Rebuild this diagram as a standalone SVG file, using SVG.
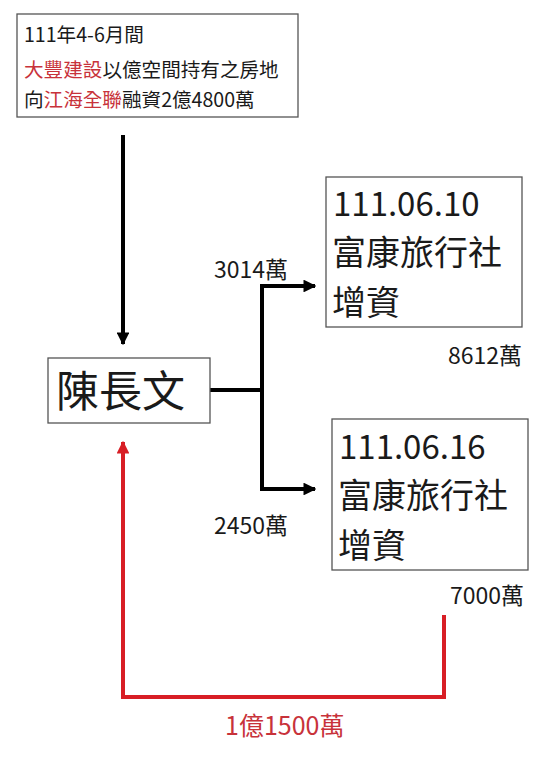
<svg xmlns="http://www.w3.org/2000/svg" width="555" height="773" viewBox="0 0 555 773">
<style>
.t{font-family:"Noto Sans CJK TC","Noto Sans",sans-serif;fill:#1a1a1a}
.r{fill:#c8323a}
.box{fill:#fff;stroke:#555;stroke-width:1.3}
.k{fill:none;stroke:#000;stroke-width:4}
.red{fill:none;stroke:#d81e25;stroke-width:4}
.e{text-anchor:end}
</style>
<defs>
<marker id="ab" viewBox="0 0 10 10" refX="9" refY="5" markerWidth="3.2" markerHeight="3.2" orient="auto" markerUnits="strokeWidth"><path d="M0,0L10,5L0,10z" fill="#000"/></marker>
<marker id="ar" viewBox="0 0 10 10" refX="9" refY="5" markerWidth="3.2" markerHeight="3.2" orient="auto" markerUnits="strokeWidth"><path d="M0,0L10,5L0,10z" fill="#d81e25"/></marker>
</defs>
<rect width="555" height="773" fill="#fff"/>
<g id="connectors">
<line class="k" x1="123" y1="135" x2="123" y2="344" marker-end="url(#ab)"/>
<polyline class="k" points="210,390 262,390"/>
<polyline class="k" points="262,489 262,286 315,286" marker-end="url(#ab)"/>
<polyline class="k" points="262,389 262,489 315,489" marker-end="url(#ab)"/>
<polyline class="red" points="444,615 444,697 123,697 123,442" marker-end="url(#ar)"/>
</g>
<g id="source">
<rect class="box" x="17" y="14" width="281" height="103"/>
<text class="t" x="24" y="42" font-size="19.6">111年4-6月間</text>
<text class="t" x="24" y="77" font-size="19.6"><tspan class="r">大豐建設</tspan>以億空間持有之房地</text>
<text class="t" x="24" y="107" font-size="19.6">向<tspan class="r">江海全聯</tspan>融資2億4800萬</text>
</g>
<g id="chen">
<rect class="box" x="48" y="358" width="162" height="65"/>
<text class="t" x="56" y="407" font-size="43">陳長文</text>
</g>
<g id="inv1">
<rect class="box" x="326" y="177" width="196" height="150"/>
<text class="t" x="333" y="216" font-size="33">111.06.10</text>
<text class="t" x="332" y="265" font-size="34">富康旅行社</text>
<text class="t" x="332" y="315" font-size="34">增資</text>
</g>
<g id="inv2">
<rect class="box" x="332" y="419" width="196" height="151"/>
<text class="t" x="339" y="459" font-size="33">111.06.16</text>
<text class="t" x="338" y="508" font-size="34">富康旅行社</text>
<text class="t" x="338" y="558" font-size="34">增資</text>
</g>
<g id="labels">
<text class="t" x="214" y="278" font-size="23">3014萬</text>
<text class="t e" x="522" y="364" font-size="23">8612萬</text>
<text class="t" x="214" y="534" font-size="23">2450萬</text>
<text class="t e" x="524" y="604" font-size="23">7000萬</text>
<text class="t r" x="225" y="735" font-size="25">1億1500萬</text>
</g>
</svg>
